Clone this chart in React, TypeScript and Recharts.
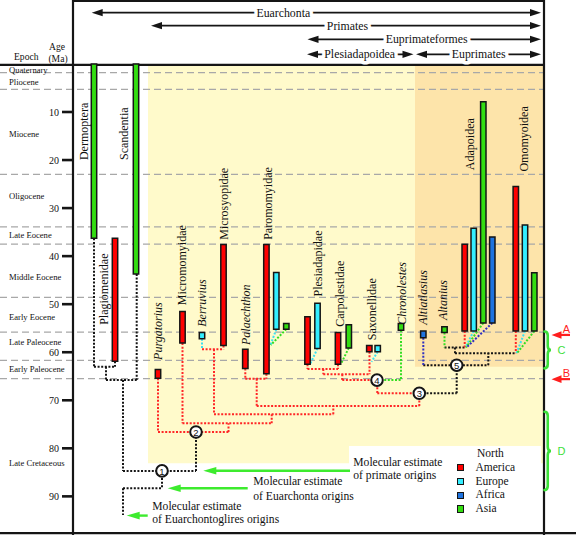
import React from 'react';
import { ComposedChart, XAxis, YAxis, ReferenceArea, ReferenceLine, ReferenceDot, Legend } from 'recharts';

const SERIF = "'Liberation Serif', 'Times New Roman', serif";
const SANS = "'Liberation Sans', Arial, sans-serif";

// ---------- data ----------
const regions = [
  { key: 'NA', name: 'North America', color: '#FF0000', link: '#FF2626' },
  { key: 'EU', name: 'Europe', color: '#33EEFF', link: '#3CE0F0' },
  { key: 'AF', name: 'Africa', color: '#1E73E0', link: '#3030C0' },
  { key: 'AS', name: 'Asia', color: '#33DD11', link: '#33DD22' },
];

const ageTicks = [10, 20, 30, 40, 50, 60, 70, 80, 90];
const epochBoundaries = [1.8, 5.3, 23.0, 33.9, 37.5, 48.6, 55.8, 61.7, 65.5];
const epochNames = ['Quaternary', 'Pliocene', 'Miocene', 'Oligocene', 'Late Eocene', 'Middle Eocene', 'Early Eocene', 'Late Paleocene', 'Early Paleocene', 'Late Cretaceous'];
const epochLabelAges = [1.2, 3.7, 14.6, 27.5, 35.7, 44.4, 52.7, 57.8, 63.5, 83.0];

// fossil ranges: lane on the x axis, young / old ages in Ma
const fossilRanges = [
  { taxon: 'Dermoptera', region: 'AS', lane: 94, young: 0, old: 36.3 },
  { taxon: 'Plagiomenidae', region: 'NA', lane: 115, young: 36.3, old: 61.9 },
  { taxon: 'Scandentia', region: 'AS', lane: 136, young: 0, old: 43.7 },
  { taxon: 'Purgatorius', region: 'NA', lane: 158, young: 63.6, old: 65.4 },
  { taxon: 'Micromomyidae', region: 'NA', lane: 182.5, young: 51.5, old: 58.1 },
  { taxon: 'Berruvius', region: 'EU', lane: 202, young: 55.9, old: 57.2 },
  { taxon: 'Microsyopidae', region: 'NA', lane: 223.5, young: 37.6, old: 58.6 },
  { taxon: 'Palaechthon', region: 'NA', lane: 245.3, young: 59.4, old: 63.4 },
  { taxon: 'Paromomyidae', region: 'NA', lane: 266.4, young: 37.6, old: 64.5 },
  { taxon: 'Paromomyidae', region: 'EU', lane: 276.3, young: 43.4, old: 55.2 },
  { taxon: 'Paromomyidae', region: 'AS', lane: 286.3, young: 54.0, old: 55.2 },
  { taxon: 'Plesiadapidae', region: 'NA', lane: 307.5, young: 52.6, old: 62.5 },
  { taxon: 'Plesiadapidae', region: 'EU', lane: 317.5, young: 49.8, old: 59.2 },
  { taxon: 'Carpolestidae', region: 'NA', lane: 338, young: 55.9, old: 62.5 },
  { taxon: 'Carpolestidae', region: 'AS', lane: 348.8, young: 54.3, old: 59.1 },
  { taxon: 'Saxonellidae', region: 'NA', lane: 369.3, young: 58.6, old: 59.9 },
  { taxon: 'Saxonellidae', region: 'EU', lane: 377.7, young: 58.6, old: 59.9 },
  { taxon: 'Chronolestes', region: 'AS', lane: 401, young: 54.0, old: 55.4 },
  { taxon: 'Altiatlasius', region: 'AF', lane: 423.3, young: 55.6, old: 57.0 },
  { taxon: 'Altanius', region: 'AS', lane: 444.5, young: 54.7, old: 55.9 },
  { taxon: 'Adapoidea', region: 'NA', lane: 464.7, young: 37.5, old: 55.6 },
  { taxon: 'Adapoidea', region: 'EU', lane: 473.7, young: 34.2, old: 55.6 },
  { taxon: 'Adapoidea', region: 'AS', lane: 483.3, young: 7.85, old: 53.9 },
  { taxon: 'Adapoidea', region: 'AF', lane: 492.3, young: 36.0, old: 53.9 },
  { taxon: 'Omomyoidea', region: 'NA', lane: 515.8, young: 25.5, old: 55.6 },
  { taxon: 'Omomyoidea', region: 'EU', lane: 525, young: 33.5, old: 55.6 },
  { taxon: 'Omomyoidea', region: 'AS', lane: 534.3, young: 43.45, old: 55.6 },
];

// taxon names: lane and the age where the (upward-reading) name starts
const taxonLabels = [
  { name: 'Dermoptera', lane: 84, base: 20.0, italic: false },
  { name: 'Scandentia', lane: 124, base: 20.0, italic: false },
  { name: 'Plagiomenidae', lane: 104, base: 54.3, italic: false },
  { name: 'Purgatorius', lane: 158.3, base: 61.6, italic: true },
  { name: 'Micromomyidae', lane: 181.7, base: 50.2, italic: false },
  { name: 'Berruvius', lane: 201.7, base: 54.7, italic: true },
  { name: 'Microsyopidae', lane: 224, base: 36.6, italic: false },
  { name: 'Palaechthon', lane: 245.7, base: 58.5, italic: true },
  { name: 'Paromomyidae', lane: 268, base: 36.6, italic: false },
  { name: 'Plesiadapidae', lane: 318.3, base: 48.4, italic: false },
  { name: 'Carpolestidae', lane: 340, base: 54.7, italic: false },
  { name: 'Saxonellidae', lane: 371.7, base: 57.5, italic: false },
  { name: 'Chronolestes', lane: 401.7, base: 54.3, italic: true },
  { name: 'Altiatlasius', lane: 423.3, base: 54.3, italic: true },
  { name: 'Altanius', lane: 443.3, base: 53.3, italic: true },
  { name: 'Adapoidea', lane: 470, base: 22.1, italic: false },
  { name: 'Omomyoidea', lane: 524.3, base: 22.4, italic: false },
];

// tree links: [lane1, age1, lane2, age2, lineage]
const treeLinks: [number, number, number, number, string][] = [
  [94, 36.3, 94, 63.0, 'stem'], [115, 61.9, 115, 63.0, 'stem'], [94, 63.0, 115, 63.0, 'stem'],
  [106, 63.0, 106, 65.8, 'stem'], [136.7, 43.7, 136.7, 65.8, 'stem'], [106, 65.8, 136.7, 65.8, 'stem'],
  [123, 65.8, 123, 84.7, 'stem'], [123, 84.7, 196, 84.7, 'stem'], [196, 84.7, 196, 76.6, 'stem'],
  [162, 84.7, 162, 88.3, 'stem'], [123, 88.3, 162, 88.3, 'stem'], [123, 88.3, 123, 93.9, 'stem'],
  [419.3, 68.55, 456.7, 68.55, 'stem'], [456.7, 68.55, 456.7, 62.7, 'stem'],
  [423.3, 62.7, 488.3, 62.7, 'stem'], [488.3, 62.7, 488.3, 60.2, 'stem'], [455, 60.2, 515.8, 60.2, 'stem'],
  [455, 60.2, 455, 59.0, 'stem'], [444.5, 59.0, 465, 59.0, 'stem'],
  [158, 65.4, 158, 76.6, 'NA'], [158, 76.6, 228.5, 76.6, 'NA'], [228.5, 76.6, 228.5, 74.8, 'NA'],
  [182.5, 74.8, 271.7, 74.8, 'NA'], [182.5, 58.1, 182.5, 74.8, 'NA'], [271.7, 74.8, 271.7, 72.9, 'NA'],
  [214, 72.9, 333.3, 72.9, 'NA'], [214, 59.4, 214, 72.9, 'NA'], [202, 59.4, 223.5, 59.4, 'NA'],
  [223.5, 58.6, 223.5, 59.4, 'NA'], [333.3, 72.9, 333.3, 71.2, 'NA'], [256.7, 71.2, 419.3, 71.2, 'NA'],
  [256.7, 65.5, 256.7, 71.2, 'NA'], [245.3, 65.5, 266.4, 65.5, 'NA'], [245.3, 63.4, 245.3, 65.5, 'NA'],
  [266.4, 64.5, 266.4, 65.5, 'NA'], [419.3, 71.2, 419.3, 68.55, 'NA'], [377.3, 68.55, 419.3, 68.55, 'NA'],
  [377.3, 65.8, 377.3, 68.55, 'NA'], [342.3, 65.8, 377, 65.8, 'NA'], [342.3, 64.6, 342.3, 65.8, 'NA'],
  [323.3, 64.6, 370, 64.6, 'NA'], [323.3, 63.5, 323.3, 64.6, 'NA'], [307.5, 63.5, 338, 63.5, 'NA'],
  [307.5, 62.5, 307.5, 63.5, 'NA'], [338, 62.5, 338, 63.5, 'NA'], [369.5, 59.9, 369.5, 64.6, 'NA'],
  [464.7, 55.6, 464.7, 59.0, 'NA'], [515.8, 55.6, 515.8, 60.2, 'NA'],
  [202, 57.2, 202, 59.4, 'EU'], [276.3, 55.2, 270.5, 58.5, 'EU'], [317.5, 59.2, 310.5, 62.3, 'EU'],
  [377.7, 59.9, 371.5, 62.0, 'EU'], [473.7, 55.6, 465.5, 59.0, 'EU'], [525, 55.6, 516.5, 60.2, 'EU'],
  [286.3, 55.2, 270.7, 58.5, 'AS'], [348.8, 59.1, 341.5, 62.2, 'AS'], [401, 55.4, 401, 65.8, 'AS'],
  [377, 65.8, 401, 65.8, 'AS'], [444.5, 55.9, 444.5, 59.0, 'AS'], [483.3, 53.9, 466, 59.0, 'AS'],
  [534.3, 55.6, 517, 60.2, 'AS'],
  [423.3, 57.0, 423.3, 62.7, 'AF'], [492.3, 53.9, 466.5, 59.0, 'AF'],
];

const treeNodes = [
  { id: 1, lane: 162, age: 84.7 },
  { id: 2, lane: 196, age: 76.6 },
  { id: 3, lane: 419.3, age: 68.55 },
  { id: 4, lane: 377, age: 65.8 },
  { id: 5, lane: 456.7, age: 62.7 },
];

const cladeSpans = [
  { name: 'Euarchonta', row: 0, from: 91.7, to: 541, labelLane: 283.3 },
  { name: 'Primates', row: 1, from: 151, to: 541, labelLane: 347.5 },
  { name: 'Euprimateformes', row: 2, from: 307.5, to: 541, labelLane: 426.7 },
  { name: 'Plesiadapoidea', row: 3, from: 307, to: 413.5, labelLane: 359.7 },
  { name: 'Euprimates', row: 3, from: 416, to: 541, labelLane: 478.7 },
];
const headerRowAges = [-10.67, -7.96, -5.13, -2.01];

const molecularEstimates = [
  { lines: ['Molecular estimate', 'of primate origins'], age: 84.66, tail: 350, tip: 203.3, textLane: 353.3, textAges: [83.0, 85.75] },
  { lines: ['Molecular estimate', 'of Euarchonta origins'], age: 88.3, tail: 247.7, tip: 167.7, textLane: 253.3, textAges: [86.96, 90.1] },
  { lines: ['Molecular estimate', 'of Euarchontoglires origins'], age: 94.0, tail: 147.7, tip: 126.7, textLane: 152.3, textAges: [92.2, 94.75] },
];

const eventMarks = [
  { label: 'A', age: 56.4 },
  { label: 'B', age: 65.6 },
];
const intervalBraces = [
  { label: 'C', from: 55.7, to: 63.35 },
  { label: 'D', from: 72.4, to: 88.7 },
];

// ---------- styles / helpers ----------
const W = 576;
const H = 535;
const BAR_HALF = 2.7;
const INK = '#151515';
const ARROW_GREEN = '#3DEB2E';
const BRACE_GREEN = '#3DE03A';
const MARK_RED = '#FF1E1E';

const chartData = fossilRanges.map((r) => ({ x: r.lane, age: r.old }));

const regionColor = (k: string) => regions.find((r) => r.key === k)!.color;
const linkColor = (k: string) => (k === 'stem' ? INK : regions.find((r) => r.key === k)!.link);

const textMark = (key: string, lane: number, age: number, content: string, style: any, rotate = false) => (
  <ReferenceDot
    key={key}
    x={lane}
    y={age}
    r={0}
    ifOverflow="visible"
    zIndex={1000}
    shape={(p: any) => (
      <text
        x={p.cx}
        y={p.cy}
        transform={rotate ? `rotate(-90 ${p.cx} ${p.cy})` : undefined}
        dominantBaseline="central"
        {...style}
      >
        {content}
      </text>
    )}
  />
);

const arrowShape = (color: string, width: number, head: number, half: number, both: boolean) => (p: any) => {
  const { x1, y1, x2, y2 } = p;
  const d = x2 >= x1 ? 1 : -1;
  const tipR = `${x2},${y2} ${x2 - d * head},${y2 - half} ${x2 - d * head},${y2 + half}`;
  const tipL = `${x1},${y1} ${x1 + d * head},${y1 - half} ${x1 + d * head},${y1 + half}`;
  return (
    <g>
      <line x1={both ? x1 + d * head * 0.7 : x1} y1={y1} x2={x2 - d * head * 0.7} y2={y2} stroke={color} strokeWidth={width} />
      <polygon points={tipR} fill={color} />
      {both && <polygon points={tipL} fill={color} />}
    </g>
  );
};

const braceShape = (p: any) => {
  const x = p.x1;
  const yt = Math.min(p.y1, p.y2);
  const yb = Math.max(p.y1, p.y2);
  const ym = (yt + yb) / 2;
  const w = 6.5;
  const c = 4;
  const d = `M ${x} ${yt} Q ${x + w / 2} ${yt} ${x + w / 2} ${yt + c} L ${x + w / 2} ${ym - c} Q ${x + w / 2} ${ym} ${x + w} ${ym} Q ${x + w / 2} ${ym} ${x + w / 2} ${ym + c} L ${x + w / 2} ${yb - c} Q ${x + w / 2} ${yb} ${x} ${yb}`;
  return <path d={d} fill="none" stroke={BRACE_GREEN} strokeWidth={2.6} strokeLinecap="round" />;
};

const renderLegend = () => (
  <div style={{ fontFamily: SERIF, fontSize: 11.5, color: '#111', lineHeight: '13.8px' }}>
    {regions.map((r) => {
      const words = r.name.split(' ');
      const last = words.pop();
      return (
        <div key={r.key}>
          {words.length > 0 && <div style={{ paddingLeft: 20.5, height: 13.8 }}>{words.join(' ')}</div>}
          <div style={{ display: 'flex', alignItems: 'center', height: 13.8 }}>
            <span style={{ display: 'inline-block', width: 5.5, height: 5.5, background: r.color, border: `1.5px solid ${INK}`, marginRight: 11.5 }} />
            <span>{last}</span>
          </div>
        </div>
      );
    })}
  </div>
);

export default function App() {
  const els: React.ReactNode[] = [];

  // backgrounds
  els.push(<ReferenceArea key="bg-pri" x1={148} x2={543} y1={0.2} y2={83.1} fill="#FFFACB" fillOpacity={1} stroke="none" ifOverflow="visible" zIndex={10} />);
  els.push(<ReferenceArea key="bg-eup" x1={415} x2={543} y1={0.2} y2={63.0} fill="#FDE4AA" fillOpacity={1} stroke="none" ifOverflow="visible" zIndex={11} />);
  els.push(<ReferenceArea key="bg-leg" x1={349} x2={541} y1={79.5} y2={97.6} fill="#FFFFFF" fillOpacity={1} stroke="none" ifOverflow="visible" zIndex={12} />);

  // epoch boundaries
  epochBoundaries.forEach((a, i) => {
    els.push(
      <ReferenceLine key={`ep-${i}`} segment={[{ x: 0, y: a }, { x: 543, y: a }]} stroke="#A8A8A8" strokeWidth={1.3} strokeDasharray="7 4" ifOverflow="visible" zIndex={20} />
    );
  });
  epochNames.forEach((n, i) => {
    els.push(textMark(`epn-${i}`, 9, epochLabelAges[i], n, { fontFamily: SERIF, fontSize: 8.6, fill: '#111', textAnchor: 'start' }));
  });

  // frame
  const frame: [number, number, number, number][] = [
    [73, -13.1, 544, -13.1],
    [0, 0.2, 544, 0.2],
    [544, -13.31, 544, 98.04],
    [0, 97.63, 576, 97.63],
  ];
  frame.forEach((f, i) => {
    els.push(<ReferenceLine key={`fr-${i}`} segment={[{ x: f[0], y: f[1] }, { x: f[2], y: f[3] }]} stroke={INK} strokeWidth={2.2} ifOverflow="visible" zIndex={30} />);
  });

  // header
  els.push(textMark('h-epoch', 14, -1.65, 'Epoch', { fontFamily: SERIF, fontSize: 9.6, fill: '#111', textAnchor: 'start' }));
  els.push(textMark('h-age', 57, -3.6, 'Age', { fontFamily: SERIF, fontSize: 9.6, fill: '#111', textAnchor: 'middle' }));
  els.push(textMark('h-ma', 58, -1.2, '(Ma)', { fontFamily: SERIF, fontSize: 9.6, fill: '#111', textAnchor: 'middle' }));
  cladeSpans.forEach((c, i) => {
    const a = headerRowAges[c.row];
    els.push(
      <ReferenceLine key={`cl-${i}`} segment={[{ x: c.from, y: a }, { x: c.to, y: a }]} stroke={INK} ifOverflow="visible" zIndex={40} shape={arrowShape(INK, 1.8, 11, 3.6, true)} />
    );
    els.push(
      textMark(`cll-${i}`, c.labelLane, a, c.name, {
        fontFamily: SERIF, fontSize: 11.8, fill: '#111', textAnchor: 'middle', stroke: '#fff', strokeWidth: 7, paintOrder: 'stroke', strokeLinejoin: 'round',
      })
    );
  });

  // tree links
  treeLinks.forEach((l, i) => {
    els.push(
      <ReferenceLine key={`tl-${i}`} segment={[{ x: l[0], y: l[1] }, { x: l[2], y: l[3] }]} stroke={linkColor(l[4])} strokeWidth={2} strokeDasharray="2 1.6" ifOverflow="visible" zIndex={50} />
    );
  });

  // fossil range bars
  fossilRanges.forEach((r, i) => {
    els.push(
      <ReferenceArea key={`fr-bar-${i}`} x1={r.lane - BAR_HALF} x2={r.lane + BAR_HALF} y1={r.young} y2={r.old} fill={regionColor(r.region)} fillOpacity={1} stroke={INK} strokeWidth={1.5} ifOverflow="visible" zIndex={60} />
    );
  });

  // taxon labels
  taxonLabels.forEach((t, i) => {
    els.push(
      textMark(`tx-${i}`, t.lane, t.base, t.name, { fontFamily: SERIF, fontSize: 12, fill: '#111', textAnchor: 'start', fontStyle: t.italic ? 'italic' : 'normal' }, true)
    );
  });

  // nodes
  treeNodes.forEach((n) => {
    els.push(
      <ReferenceDot
        key={`nd-${n.id}`}
        x={n.lane}
        y={n.age}
        r={5.8}
        ifOverflow="visible"
        zIndex={900}
        shape={(p: any) => (
          <g>
            <circle cx={p.cx} cy={p.cy} r={5.8} fill="#fff" stroke={INK} strokeWidth={2} />
            <text x={p.cx} y={p.cy + 0.5} textAnchor="middle" dominantBaseline="central" fontFamily={SANS} fontSize={9.5} fill="#111">
              {n.id}
            </text>
          </g>
        )}
      />
    );
  });

  // molecular estimates
  molecularEstimates.forEach((m, i) => {
    els.push(
      <ReferenceLine key={`me-${i}`} segment={[{ x: m.tail, y: m.age }, { x: m.tip, y: m.age }]} stroke={ARROW_GREEN} ifOverflow="visible" zIndex={70} shape={arrowShape(ARROW_GREEN, 2.4, 13, 3.8, false)} />
    );
    m.lines.forEach((ln, j) => {
      els.push(textMark(`met-${i}-${j}`, m.textLane, m.textAges[j], ln, { fontFamily: SERIF, fontSize: 11.6, fill: '#111', textAnchor: 'start' }));
    });
  });

  // event markers and braces (right margin)
  eventMarks.forEach((e, i) => {
    els.push(
      <ReferenceLine key={`ev-${i}`} segment={[{ x: 570, y: e.age }, { x: 551.5, y: e.age }]} stroke={MARK_RED} ifOverflow="visible" zIndex={70} shape={arrowShape(MARK_RED, 2.2, 10, 3.8, false)} />
    );
    els.push(textMark(`evl-${i}`, 566.5, e.age - 1.25, e.label, { fontFamily: SANS, fontSize: 11, fill: MARK_RED, textAnchor: 'middle' }));
  });
  intervalBraces.forEach((b, i) => {
    els.push(
      <ReferenceLine key={`br-${i}`} segment={[{ x: 544.5, y: b.from }, { x: 544.5, y: b.to }]} stroke={BRACE_GREEN} ifOverflow="visible" zIndex={70} shape={braceShape} />
    );
    els.push(textMark(`brl-${i}`, 557.5, (b.from + b.to) / 2, b.label, { fontFamily: SANS, fontSize: 11, fill: BRACE_GREEN, textAnchor: 'start' }));
  });

  return (
    <div style={{ position: 'absolute', left: 0, top: 0, width: W, height: H, background: '#fff' }}>
      <ComposedChart width={W} height={H} data={chartData} margin={{ top: 0, right: 0, bottom: 0, left: 0 }}>
        <XAxis type="number" dataKey="x" domain={[73, 576]} allowDataOverflow hide />
        <YAxis
          type="number"
          dataKey="age"
          domain={[-13.31, 98.04]}
          allowDataOverflow
          reversed
          ticks={ageTicks}
          interval={0}
          width={73}
          tickSize={11}
          tickMargin={3}
          axisLine={{ stroke: INK, strokeWidth: 2.2 }}
          tickLine={{ stroke: INK, strokeWidth: 2.6 }}
          tick={{ fontSize: 10, fill: '#111', fontFamily: SERIF }}
        />
        {els}
        <Legend
          layout="vertical"
          align="center"
          verticalAlign="middle"
          content={renderLegend}
          wrapperStyle={{ position: 'absolute', left: 456.5, top: 447, width: 90, height: 'auto', margin: 0, padding: 0 }}
        />
      </ComposedChart>
    </div>
  );
}
